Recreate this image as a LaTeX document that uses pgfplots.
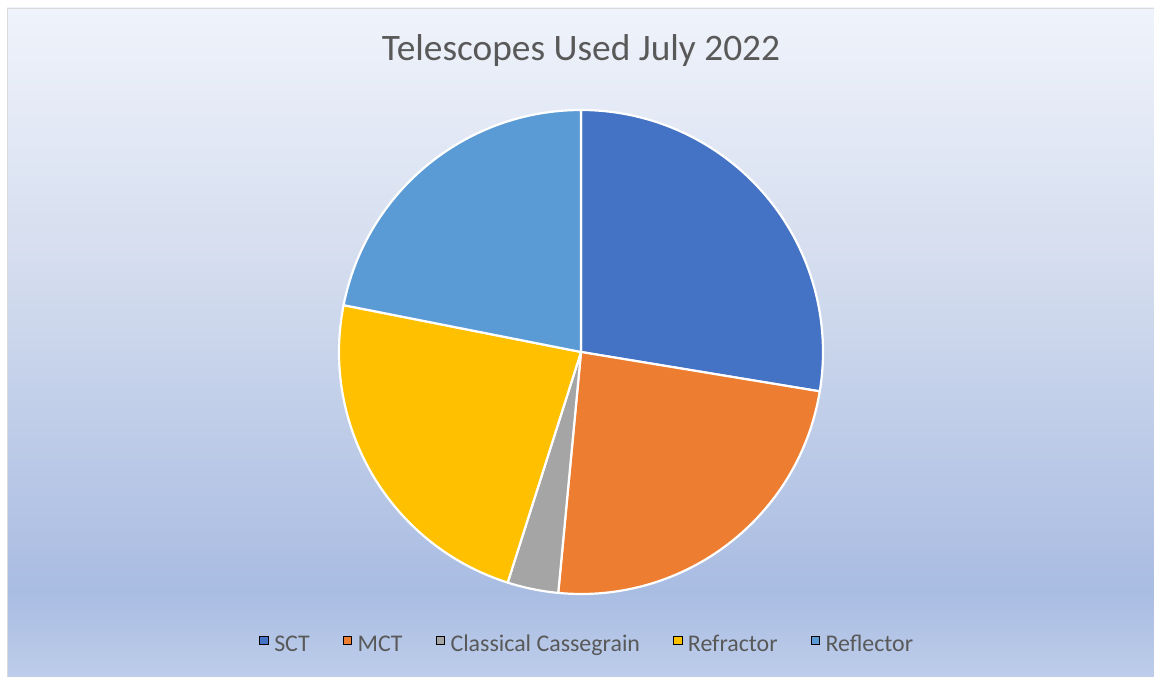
\documentclass[border=0pt]{standalone}
\usepackage{fontspec}
\setmainfont{Carlito}
\usepackage{pgfplots}
\usepackage{pgfplotstable}
\pgfplotsset{compat=1.18}

\definecolor{sctc}{HTML}{4472C4}
\definecolor{mctc}{HTML}{ED7D31}
\definecolor{ccc}{HTML}{A5A5A5}
\definecolor{refrc}{HTML}{FFC000}
\definecolor{reflc}{HTML}{5B9BD5}
\definecolor{textgray}{HTML}{595959}
\definecolor{bgtop}{HTML}{EFF3FB}
\definecolor{bgmid}{HTML}{D3DCEE}
\definecolor{bgdark}{HTML}{A9BCE2}
\definecolor{bgbot}{HTML}{BDCDEA}
\definecolor{framec}{HTML}{D9D9D9}

\pgfdeclareverticalshading{chartbg}{100bp}{%
  color(0bp)=(bgbot); color(25bp)=(bgbot); color(31.5bp)=(bgdark);
  color(55bp)=(bgmid); color(75bp)=(bgtop); color(100bp)=(bgtop)}

% shares in percent of the pie, clockwise from 12 o'clock
\pgfplotstableread{
label share color
SCT 27.6 sctc
MCT 23.9 mctc
{Classical Cassegrain} 3.4 ccc
Refractor 23.2 refrc
Reflector 21.9 reflc
}\piedata

\begin{document}
\begin{tikzpicture}
\useasboundingbox (0bp,0bp) rectangle (1154bp,677bp);
\fill[white] (0bp,0bp) rectangle (1154bp,677bp);
\shade[shading=chartbg] (7bp,0bp) rectangle (1154bp,669bp);
\draw[framec, line width=0.8bp] (7bp,-1bp) -- (7bp,669bp) -- (1155bp,669bp);

\node[text=textgray, font=\fontsize{37.5}{45}\selectfont] at (581bp,626bp) {Telescopes Used July 2022};

\begin{axis}[
  at={(581bp,325bp)}, anchor=center,
  scale only axis, width=484bp, height=484bp,
  xmin=-1, xmax=1, ymin=-1, ymax=1,
  hide axis, clip=false,
  legend columns=5,
  legend style={draw=none, fill=none, at={(0.515,-0.1035)}, anchor=center,
    font=\fontsize{24}{28}\selectfont, text=textgray,
    nodes={inner xsep=4bp, inner ysep=2bp},
    /tikz/every odd column/.append style={column sep=2bp},
    /tikz/every even column/.append style={column sep=29bp}},
  legend image code/.code={\fill[#1] (0bp,-0.5bp) rectangle (8.5bp,8bp);},
]
\def\cum{90}
\pgfplotsforeachungrouped \i in {0,...,4}{%
  \pgfplotstablegetelem{\i}{share}\of\piedata \let\v\pgfplotsretval
  \pgfplotstablegetelem{\i}{color}\of\piedata \let\c\pgfplotsretval
  \pgfmathsetmacro\e{\cum-3.6*\v}%
  \edef\cmd{\noexpand\filldraw[fill=\c, draw=white, line width=2.2bp, line join=round]
    (axis cs:0,0) -- (axis cs:{cos(\cum)},{sin(\cum)})
    arc[start angle=\cum, end angle=\e, radius=1] -- cycle;}%
  \cmd
  \global\let\cum\e
}
\addlegendimage{fill=sctc}
\addlegendentry{SCT}
\addlegendimage{fill=mctc}
\addlegendentry{MCT}
\addlegendimage{fill=ccc}
\addlegendentry{Classical Cassegrain}
\addlegendimage{fill=refrc}
\addlegendentry{Refractor}
\addlegendimage{fill=reflc}
\addlegendentry{Reflector}
\end{axis}
\end{tikzpicture}
\end{document}
